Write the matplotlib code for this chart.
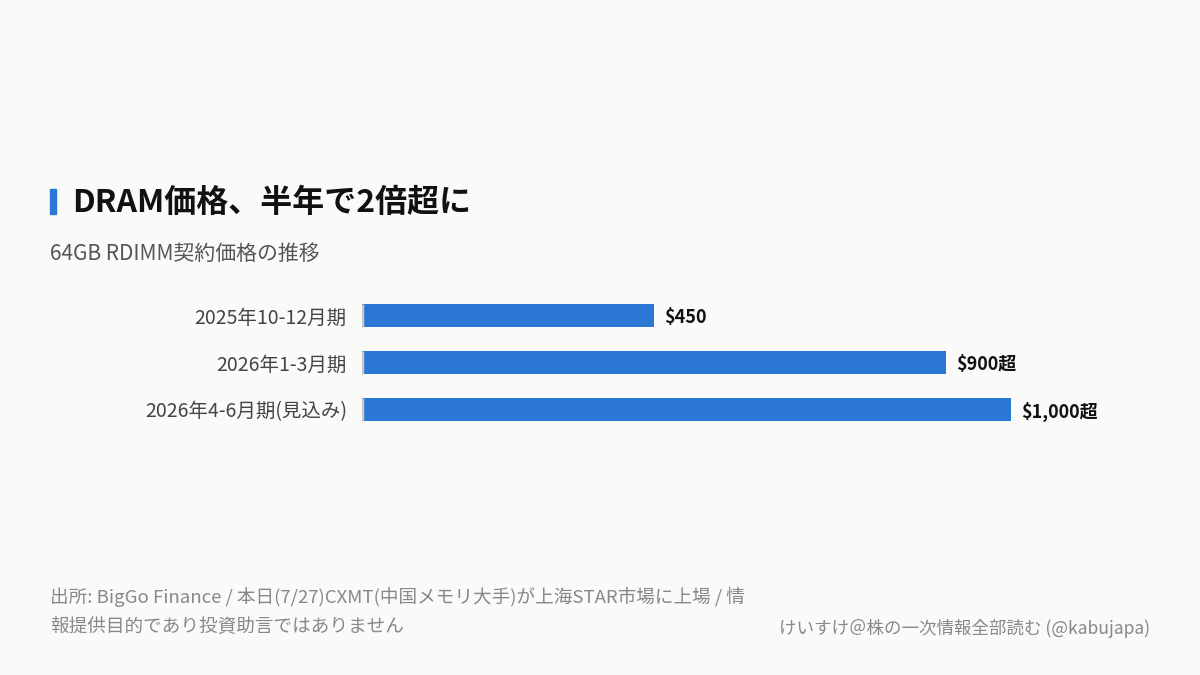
import matplotlib
matplotlib.use("Agg")
import matplotlib.pyplot as plt
from matplotlib.patches import Rectangle

plt.rcParams["font.family"] = ["Noto Sans CJK JP", "DejaVu Sans"]

categories = ["2025年10-12月期", "2026年1-3月期", "2026年4-6月期(見込み)"]
prices = [450, 900, 1000]
value_labels = ["$450", "$900超", "$1,000超"]

title = "DRAM価格、半年で2倍超に"
subtitle = "64GB RDIMM契約価格の推移"
source_lines = [
    "出所: BigGo Finance / 本日(7/27)CXMT(中国メモリ大手)が上海STAR市場に上場 / 情",
    "報提供目的であり投資助言ではありません",
]
credit = "けいすけ＠株の一次情報全部読む (@kabujapa)"

BG = "#fafaf8"
BLUE = "#2b78d4"
W, H = 1200, 675

fig = plt.figure(figsize=(12, 6.75), dpi=100, facecolor=BG)

# title accent + header texts (placed from pixel positions)
fig.patches.append(Rectangle((50 / W, 1 - 214 / H), 6 / W, 25 / H,
                             transform=fig.transFigure, color=BLUE, zorder=3))
fig.text(72 / W, 1 - 203 / H, title, fontsize=23, fontweight="bold",
         color="#111111", va="center", ha="left")
fig.text(50 / W, 1 - 254 / H, subtitle, fontsize=15, color="#555555",
         va="center", ha="left")

# bar axes: zero at x=362, 0.649 px per unit
ax_left, ax_right = 362, 1100
px_per_unit = 0.649
ax = fig.add_axes([ax_left / W, 1 - 433 / H, (ax_right - ax_left) / W, (433 - 292) / H])
ax.set_facecolor(BG)
ax.set_xlim(0, (ax_right - ax_left) / px_per_unit)
ax.set_ylim(len(categories) - 0.5, -0.5)

bar_h = 0.51
ypos = list(range(len(categories)))
ax.barh(ypos, prices, height=bar_h, color=BLUE, edgecolor="none")
ax.vlines([0] * len(ypos), [y - bar_h / 2 for y in ypos], [y + bar_h / 2 for y in ypos],
          color="#c8c8c4", linewidth=2.5, zorder=3)
for y, val, lab in zip(ypos, prices, value_labels):
    ax.text(val + 15, y, lab, va="center_baseline", ha="left", fontsize=13,
            fontweight="semibold", color="#111111")

ax.set_yticks(ypos)
ax.set_yticklabels(categories, fontsize=14, color="#444444")
ax.tick_params(axis="y", length=0, pad=11)
ax.set_xticks([])
for side in ["top", "right", "bottom", "left"]:
    ax.spines[side].set_visible(False)

fig.text(50 / W, 1 - 597 / H, source_lines[0], fontsize=13.4, color="#888888",
         va="center", ha="left")
fig.text(50 / W, 1 - 627 / H, source_lines[1], fontsize=13.4, color="#888888",
         va="center", ha="left")
fig.text(1150 / W, 1 - 628 / H, credit, fontsize=12.6, color="#888888",
         va="center", ha="right")

fig.savefig("out.png", dpi=100, facecolor=BG)
